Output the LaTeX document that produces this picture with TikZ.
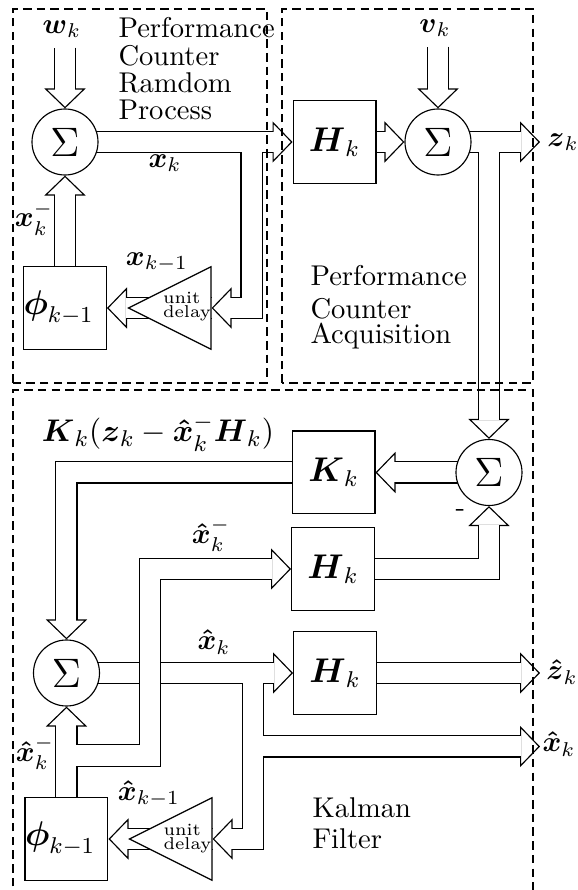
\documentclass[tikz,border=0pt]{standalone}
\usepackage{amsmath}
\usetikzlibrary{arrows.meta,shapes.geometric}
\pgfdeclarelayer{front}
\pgfsetlayers{main,front}
\begin{document}
\begin{tikzpicture}[x=3.5pt,y=3.5pt,
  sum/.style={circle, draw, fill=white, minimum size=23.1pt, inner sep=0pt, font=\Large},
  box/.style={draw, fill=white, minimum size=29pt, inner sep=0pt, font=\large},
  delay/.style={isosceles triangle, shape border rotate=180, isosceles triangle stretches,
    draw, fill=white, minimum width=28.9pt, minimum height=28.9pt, inner sep=0pt, anchor=apex},
  flow/.style={draw=white, line width=7pt, shorten >=6.6pt,
    preaction={draw=black, line width=7.8pt, shorten <=#1, shorten >=0pt,
      -{Triangle[open, line width=0.4pt, length=7pt, width=14.4pt]}}},
  flow/.default=0pt,
  block/.style={draw, dash pattern=on 3pt off 1.8pt},
  txt/.style={align=left, inner sep=0pt, anchor=north west},
  tiny/.style={align=left, inner sep=0pt, font=\fontsize{6}{4.9}\selectfont}]
\useasboundingbox (0,0) rectangle (57.7,89);
\begin{pgfonlayer}{front}
\draw[block] (1.3,50.7) rectangle (26.7,88.1);
\draw[block] (28.2,50.7) rectangle (53.3,88.1);
\draw[block] (1.3,-1) rectangle (53.3,50);
\node[txt, font=\fontsize{10}{9.6}\selectfont] (pcrp) at (11.8,87.3) {Performance\\Counter\\Ramdom\\Process};
\node[txt, font=\fontsize{10}{8.8}\selectfont] (pca) at (31,62.5) {Performance\\[2.7pt]Counter\\Acquisition};
\node[txt, font=\fontsize{10}{10.8}\selectfont] (kf) at (31.2,9.3) {Kalman\\Filter};
\node[sum] (sum1) at (6.5,74.8) {$\Sigma$};
\node (wk) at (6.2,86.1) {$\boldsymbol{w}_k$};
\node[box, text width=29pt, align=left] (phi1) at (6.5,58.2) {$\boldsymbol{\phi}_{k-1}$};
\node[delay] (dly1) at (12.7,58.2) {};
\node[tiny] (dt1) at (18.7,58.35) {unit\\delay};
\node (xk) at (16.5,72.7) {$\boldsymbol{x}_k$};
\node (xkm) at (3.4,67.1) {$\boldsymbol{x}_k^-$};
\node (xkp) at (15.7,62.8) {$\boldsymbol{x}_{k-1}$};
\node[box] (hk1) at (33.45,74.8) {$\boldsymbol{H}_k$};
\node[sum] (sum2) at (43.8,74.8) {$\Sigma$};
\node (vk) at (43.5,86.2) {$\boldsymbol{v}_k$};
\coordinate (zend) at (54,74.8);
\node (zk) at (56.3,74.8) {$\boldsymbol{z}_k$};
\node[sum] (sum3) at (48.9,41.75) {$\Sigma$};
\node (minus) at (46.05,37.7) {-};
\node[box] (kk) at (33.35,41.75) {$\boldsymbol{K}_k$};
\node[font=\fontsize{10.8}{13}\selectfont] (gain) at (15.8,45.7) {$\boldsymbol{K}_k(\boldsymbol{z}_k-\boldsymbol{\hat{x}}_k^-\boldsymbol{H}_k)$};
\node[box] (hk2) at (33.3,32.1) {$\boldsymbol{H}_k$};
\node (xhm1) at (21.1,35.5) {$\boldsymbol{\hat{x}}_k^-$};
\node[sum] (sum4) at (6.65,21.7) {$\Sigma$};
\node (xh) at (21.4,24.8) {$\boldsymbol{\hat{x}}_k$};
\node[box] (hk3) at (33.5,21.7) {$\boldsymbol{H}_k$};
\coordinate (zhend) at (54,21.7);
\node (zh) at (56.2,21.8) {$\boldsymbol{\hat{z}}_k$};
\coordinate (xhend) at (54,14.35);
\node (xhout) at (55.9,14.6) {$\boldsymbol{\hat{x}}_k$};
\node (xhm2) at (3.5,13.7) {$\boldsymbol{\hat{x}}_k^-$};
\node (xhp) at (14.9,9.6) {$\boldsymbol{\hat{x}}_{k-1}$};
\node[box, text width=29pt, align=left] (phi2) at (6.65,5.1) {$\boldsymbol{\phi}_{k-1}$};
\node[delay] (dly2) at (12.8,5.1) {};
\node[tiny] (dt2) at (18.75,5.15) {unit\\delay};
\end{pgfonlayer}
\draw[flow] (wk.south -| sum1) -- (sum1);
\draw[flow] (phi1) -- (sum1);
\draw[flow] (sum1.center) -- (hk1);
\draw[flow=3.9pt] (25.15,74.8) |- (dly1.lower side);
\draw[flow] (dly1.lower side) -- (phi1);
\draw[flow] (hk1) -- (sum2);
\draw[flow] (vk.south -| sum2) -- (sum2);
\draw[flow] (sum2.center) -- (zend);
\draw[flow=3.9pt] (48.9,74.8) -- (sum3);
\draw[flow] (sum3.center) -- (kk);
\draw[flow] (kk) -| (sum4);
\draw[flow] (hk2) -| (sum3);
\draw[flow] (sum4.center) -- (hk3);
\draw[flow=3.9pt] (25.3,21.7) |- (dly2.lower side);
\draw[flow=3.9pt] (25.3,14.35) -- (xhend);
\draw[flow] (hk3) -- (zhend);
\draw[flow] (dly2.lower side) -- (phi2);
\draw[flow] (phi2) -- (sum4);
\draw[flow=3.9pt] (6.65,13.45) -| (15,32.1) -- (hk2);
\end{tikzpicture}
\end{document}
